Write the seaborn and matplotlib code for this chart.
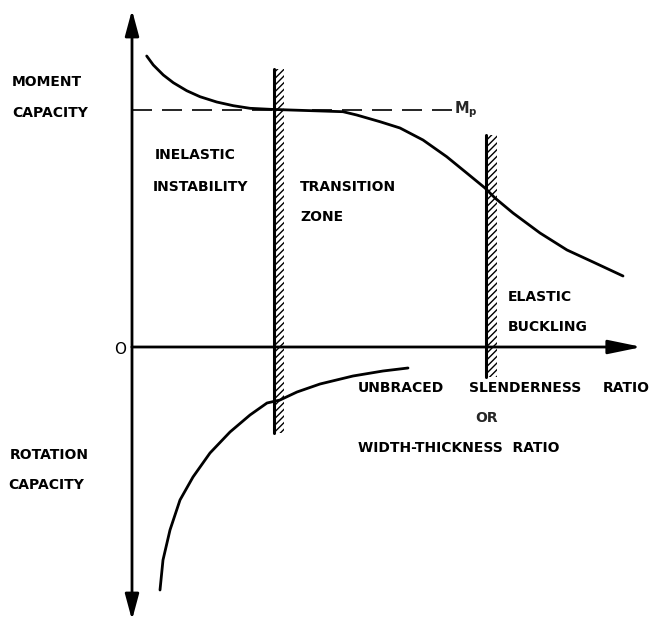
import numpy as np
import pandas as pd
import matplotlib
matplotlib.use("Agg")
import matplotlib.pyplot as plt
import seaborn as sns

# ---- data (schematic units: origin at axis crossing) ----
moment_x = [0.294, 0.426, 0.626, 0.826, 1.094, 1.36, 1.694, 2.026, 2.36, 2.76, 3.16,
            4.22, 4.494, 4.96, 5.36, 5.82, 6.294, 6.694, 7.06, 7.26, 7.62, 8.16,
            8.70, 9.22, 9.82]
moment_y = [5.82, 5.64, 5.44, 5.286, 5.126, 5.006, 4.90, 4.826, 4.774, 4.754, 4.74,
            4.706, 4.64, 4.506, 4.38, 4.14, 3.806, 3.48, 3.18, 2.98, 2.68, 2.28,
            1.94, 1.70, 1.42]
rotation_x = [0.56, 0.62, 0.76, 0.96, 1.22, 1.56, 1.96, 2.36, 2.70, 2.96, 3.30,
              3.76, 4.42, 5.02, 5.52]
rotation_y = [-4.86, -4.26, -3.66, -3.06, -2.60, -2.12, -1.70, -1.36, -1.12, -1.06,
              -0.90, -0.74, -0.58, -0.48, -0.42]
mp_level = 4.75
mp_end = 6.40
band_left = [2.84, 7.08]
band_right = [3.04, 7.30]
band_top = [5.56, 4.24]
band_bottom = [-1.72, -0.60]
x_arrow_end = 10.2
y_arrow_top = 6.74
y_arrow_bottom = -5.46

sns.set_style("white")
plt.rcParams['font.family'] = ['DejaVu Sans']
plt.rcParams['hatch.linewidth'] = 1.0

fig = plt.figure(figsize=(6.57, 6.22), dpi=100)
ax = fig.add_axes([0, 0, 1, 1])
ax.set_xlim(-2.64, 10.5)
ax.set_ylim(-5.5, 6.94)
ax.axis("off")

moment = pd.DataFrame({"x": moment_x, "y": moment_y})
rotation = pd.DataFrame({"x": rotation_x, "y": rotation_y})

# hatched bands
for xl, xr, yt, yb in zip(band_left, band_right, band_top, band_bottom):
    ax.fill_betweenx([yb, yt], xl, xr, facecolor="white", edgecolor="black",
                     hatch="/////", linewidth=0, zorder=2)
    ax.plot([xl, xl], [yb, yt], color="black", lw=2.2, zorder=3)

# Mp dashed line
ax.plot([0, mp_end], [mp_level, mp_level], color="black", lw=1.2,
        dashes=(12, 6), zorder=3)

sns.lineplot(data=moment, x="x", y="y", ax=ax, color="black", lw=2.0,
             sort=False, estimator=None, zorder=4)
sns.lineplot(data=rotation, x="x", y="y", ax=ax, color="black", lw=2.0,
             sort=False, estimator=None, zorder=4)

# axes arrows
vstyle = dict(arrowstyle="-|>,head_length=1.3,head_width=0.35", color="black",
              lw=2.0, mutation_scale=12, shrinkA=0, shrinkB=0)
hstyle = dict(arrowstyle="-|>,head_length=1.7,head_width=0.35", color="black",
              lw=2.0, mutation_scale=12, shrinkA=0, shrinkB=0)
ax.annotate("", xy=(0, y_arrow_top), xytext=(0, 0), arrowprops=vstyle, zorder=5)
ax.annotate("", xy=(0, y_arrow_bottom), xytext=(0, 0), arrowprops=vstyle, zorder=5)
ax.annotate("", xy=(x_arrow_end, 0), xytext=(0, 0), arrowprops=hstyle, zorder=5)

fs = 10
tk = dict(fontsize=fs, fontweight="bold", color="black", va="center", ha="left")
ax.text(-2.40, 5.30, "MOMENT", **tk)
ax.text(-2.40, 4.68, "CAPACITY", **tk)
ax.text(0.46, 3.84, "INELASTIC", **tk)
ax.text(0.42, 3.20, "INSTABILITY", **tk)
ax.text(3.36, 3.20, "TRANSITION", **tk)
ax.text(3.36, 2.60, "ZONE", **tk)
ax.text(7.52, 1.00, "ELASTIC", **tk)
ax.text(7.52, 0.40, "BUCKLING", **tk)
ax.text(-0.24, -0.04, "O", fontsize=11, color="black", ha="center", va="center")
ax.text(4.52, -0.82, "UNBRACED", **tk)
ax.text(6.74, -0.82, "SLENDERNESS", **tk)
ax.text(10.36, -0.82, "RATIO", fontsize=fs, fontweight="bold", color="black",
        va="center", ha="right")
ax.text(7.10, -1.42, "OR", fontsize=fs, fontweight="bold", ha="center", va="center")
ax.text(4.52, -2.02, "WIDTH-THICKNESS  RATIO", **tk)
ax.text(-2.44, -2.16, "ROTATION", **tk)
ax.text(-2.48, -2.76, "CAPACITY", **tk)
ax.text(6.44, 4.74, r"$\mathbf{M_p}$", fontsize=10.5, ha="left", va="center")

fig.savefig("out.png", dpi=100)
